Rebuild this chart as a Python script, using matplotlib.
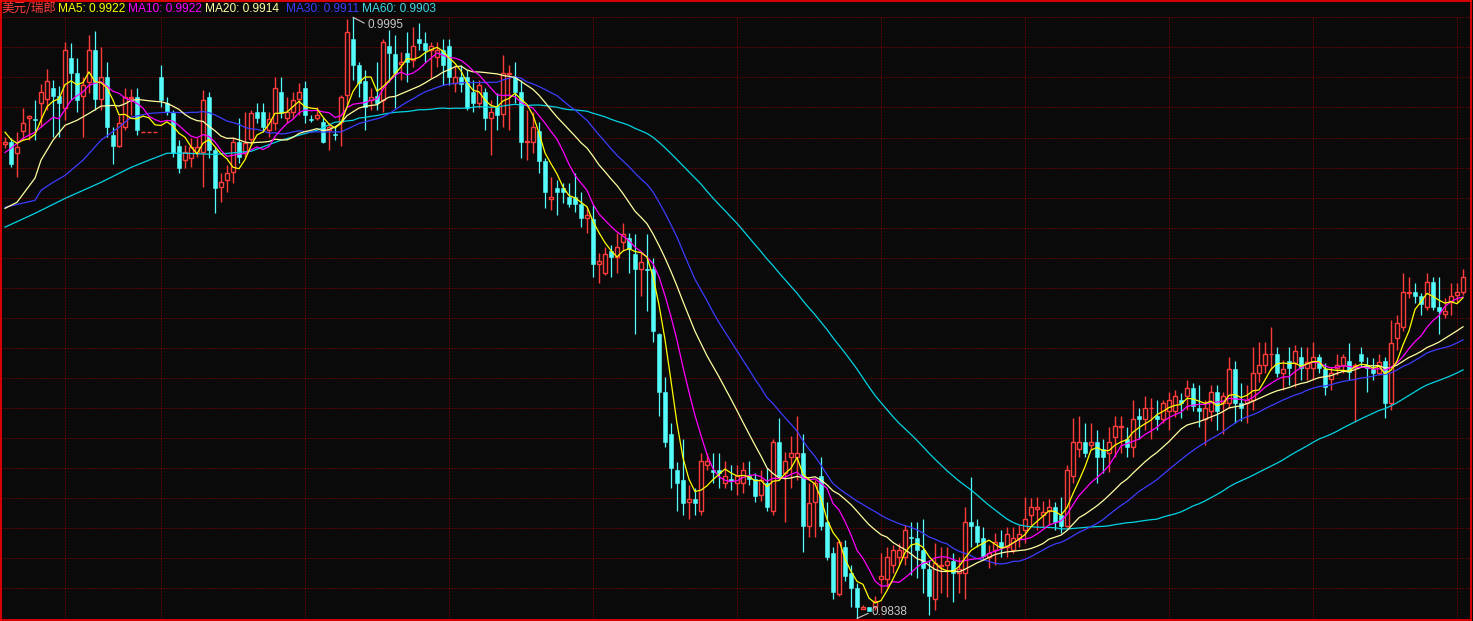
import numpy as np
import pandas as pd
import matplotlib
matplotlib.use("Agg")
import matplotlib.pyplot as plt
from matplotlib.lines import Line2D

# USD/CHF daily bars
opens = [
    0.99619, 0.99624, 0.99595, 0.99652, 0.99686, 0.99684, 0.99725, 0.99736, 0.99765, 0.99744,
    0.99712, 0.99843, 0.99804, 0.99744, 0.99780, 0.99864, 0.99736, 0.99793, 0.99642, 0.99613,
    0.99663, 0.99738, 0.99741, 0.99650, 0.99650, 0.99650, 0.99793, 0.99725, 0.99699, 0.99613,
    0.99577, 0.99582, 0.99595, 0.99597, 0.99741, 0.99603, 0.99506, 0.99524, 0.99545, 0.99624,
    0.99595, 0.99631, 0.99702, 0.99702, 0.99655, 0.99673, 0.99754, 0.99686, 0.99702, 0.99736,
    0.99765, 0.99684, 0.99686, 0.99676, 0.99655, 0.99644, 0.99676, 0.99746, 0.99893, 0.99825,
    0.99783, 0.99733, 0.99744, 0.99733, 0.99874, 0.99853, 0.99827, 0.99856, 0.99838, 0.99893,
    0.99882, 0.99864, 0.99846, 0.99864, 0.99874, 0.99778, 0.99793, 0.99793, 0.99754, 0.99725,
    0.99754, 0.99686, 0.99715, 0.99697, 0.99801, 0.99793, 0.99754, 0.99624, 0.99624, 0.99652,
    0.99574, 0.99475, 0.99503, 0.99503, 0.99482, 0.99482, 0.99462, 0.99425, 0.99422, 0.99305,
    0.99281, 0.99341, 0.99323, 0.99362, 0.99373, 0.99331, 0.99292, 0.99294, 0.99292, 0.99122,
    0.98971, 0.98863, 0.98769, 0.98741, 0.98683, 0.98691, 0.98662, 0.98782, 0.98769, 0.98769,
    0.98733, 0.98743, 0.98733, 0.98733, 0.98751, 0.98743, 0.98702, 0.98733, 0.98662, 0.98840,
    0.98759, 0.98801, 0.98801, 0.98811, 0.98621, 0.98683, 0.98751, 0.98631, 0.98550, 0.98443,
    0.98568, 0.98500, 0.98459, 0.98406, 0.98409, 0.98409, 0.98482, 0.98482, 0.98521, 0.98540,
    0.98540, 0.98592, 0.98589, 0.98560, 0.98508, 0.98432, 0.98516, 0.98521, 0.98529, 0.98500,
    0.98500, 0.98631, 0.98621, 0.98589, 0.98540, 0.98560, 0.98579, 0.98568, 0.98560, 0.98589,
    0.98610, 0.98649, 0.98665, 0.98649, 0.98662, 0.98670, 0.98649, 0.98621, 0.98751, 0.98822,
    0.98840, 0.98832, 0.98840, 0.98822, 0.98811, 0.98853, 0.98879, 0.98850, 0.98829, 0.98910,
    0.98900, 0.98929, 0.98910, 0.98900, 0.98921, 0.98921, 0.98950, 0.98960, 0.98981, 0.98931,
    0.98900, 0.98921, 0.98971, 0.98944, 0.98942, 0.99031, 0.98942, 0.98942, 0.98950, 0.99020,
    0.99041, 0.99070, 0.99072, 0.99020, 0.99052, 0.99046, 0.99062, 0.99033, 0.99033, 0.99062,
    0.99031, 0.99005, 0.99033, 0.99041, 0.99052, 0.99036, 0.99072, 0.99041, 0.99031, 0.99020,
    0.99052, 0.98942, 0.99112, 0.99140, 0.99229, 0.99232, 0.99221, 0.99193, 0.99260, 0.99193,
    0.99174, 0.99206, 0.99224, 0.99232,
]
highs = [
    0.99637, 0.99634, 0.99650, 0.99712, 0.99694, 0.99733, 0.99775, 0.99814, 0.99785, 0.99770,
    0.99885, 0.99882, 0.99843, 0.99793, 0.99903, 0.99913, 0.99872, 0.99833, 0.99663, 0.99694,
    0.99765, 0.99762, 0.99765, 0.99650, 0.99650, 0.99650, 0.99825, 0.99741, 0.99707, 0.99629,
    0.99616, 0.99634, 0.99634, 0.99759, 0.99754, 0.99610, 0.99543, 0.99563, 0.99637, 0.99686,
    0.99702, 0.99707, 0.99725, 0.99725, 0.99702, 0.99793, 0.99793, 0.99741, 0.99754, 0.99778,
    0.99783, 0.99694, 0.99715, 0.99686, 0.99673, 0.99663, 0.99746, 0.99945, 0.99950, 0.99833,
    0.99812, 0.99765, 0.99833, 0.99893, 0.99916, 0.99903, 0.99859, 0.99911, 0.99924, 0.99934,
    0.99911, 0.99885, 0.99885, 0.99893, 0.99893, 0.99825, 0.99825, 0.99812, 0.99785, 0.99785,
    0.99765, 0.99733, 0.99752, 0.99851, 0.99825, 0.99833, 0.99785, 0.99707, 0.99702, 0.99676,
    0.99582, 0.99532, 0.99524, 0.99516, 0.99516, 0.99543, 0.99493, 0.99454, 0.99459, 0.99334,
    0.99349, 0.99355, 0.99388, 0.99412, 0.99388, 0.99383, 0.99334, 0.99383, 0.99321, 0.99125,
    0.99010, 0.98890, 0.98788, 0.98850, 0.98728, 0.98722, 0.98811, 0.98811, 0.98811, 0.98811,
    0.98790, 0.98780, 0.98780, 0.98788, 0.98790, 0.98759, 0.98767, 0.98772, 0.98850, 0.98903,
    0.98814, 0.98856, 0.98910, 0.98863, 0.98733, 0.98741, 0.98801, 0.98683, 0.98566, 0.98584,
    0.98584, 0.98519, 0.98472, 0.98414, 0.98411, 0.98438, 0.98550, 0.98566, 0.98571, 0.98576,
    0.98623, 0.98631, 0.98631, 0.98641, 0.98532, 0.98576, 0.98566, 0.98566, 0.98550, 0.98540,
    0.98670, 0.98749, 0.98641, 0.98618, 0.98571, 0.98602, 0.98610, 0.98618, 0.98618, 0.98623,
    0.98696, 0.98694, 0.98696, 0.98688, 0.98691, 0.98683, 0.98696, 0.98780, 0.98903, 0.98910,
    0.98890, 0.98890, 0.98871, 0.98850, 0.98879, 0.98910, 0.98910, 0.98879, 0.98950, 0.98931,
    0.98960, 0.98957, 0.98950, 0.98950, 0.98971, 0.98976, 0.98968, 0.99002, 0.98994, 0.98989,
    0.98950, 0.98989, 0.98989, 0.98971, 0.99062, 0.99052, 0.98994, 0.98989, 0.99088, 0.99101,
    0.99101, 0.99140, 0.99088, 0.99054, 0.99088, 0.99093, 0.99088, 0.99088, 0.99101, 0.99072,
    0.99046, 0.99036, 0.99072, 0.99072, 0.99099, 0.99046, 0.99088, 0.99062, 0.99059, 0.99072,
    0.99062, 0.99159, 0.99172, 0.99281, 0.99271, 0.99255, 0.99229, 0.99281, 0.99271, 0.99271,
    0.99216, 0.99255, 0.99255, 0.99292,
]
lows = [
    0.99608, 0.99558, 0.99532, 0.99629, 0.99629, 0.99629, 0.99663, 0.99707, 0.99637, 0.99637,
    0.99681, 0.99733, 0.99702, 0.99637, 0.99752, 0.99707, 0.99707, 0.99637, 0.99566, 0.99610,
    0.99655, 0.99694, 0.99642, 0.99650, 0.99650, 0.99650, 0.99715, 0.99694, 0.99584, 0.99543,
    0.99556, 0.99558, 0.99584, 0.99506, 0.99582, 0.99438, 0.99467, 0.99493, 0.99516, 0.99569,
    0.99584, 0.99616, 0.99673, 0.99650, 0.99637, 0.99655, 0.99686, 0.99673, 0.99686, 0.99694,
    0.99673, 0.99676, 0.99681, 0.99621, 0.99603, 0.99629, 0.99613, 0.99720, 0.99785, 0.99741,
    0.99655, 0.99707, 0.99707, 0.99702, 0.99780, 0.99712, 0.99785, 0.99780, 0.99819, 0.99864,
    0.99833, 0.99791, 0.99819, 0.99772, 0.99772, 0.99754, 0.99754, 0.99707, 0.99702, 0.99712,
    0.99655, 0.99590, 0.99655, 0.99663, 0.99655, 0.99725, 0.99582, 0.99577, 0.99595, 0.99543,
    0.99451, 0.99446, 0.99433, 0.99464, 0.99454, 0.99441, 0.99402, 0.99386, 0.99271, 0.99255,
    0.99276, 0.99271, 0.99281, 0.99341, 0.99281, 0.99122, 0.99221, 0.99182, 0.99101, 0.98910,
    0.98827, 0.98720, 0.98662, 0.98649, 0.98641, 0.98649, 0.98649, 0.98767, 0.98735, 0.98722,
    0.98720, 0.98715, 0.98702, 0.98709, 0.98728, 0.98683, 0.98688, 0.98662, 0.98649, 0.98741,
    0.98631, 0.98722, 0.98741, 0.98553, 0.98592, 0.98592, 0.98610, 0.98532, 0.98432, 0.98438,
    0.98479, 0.98409, 0.98380, 0.98404, 0.98399, 0.98401, 0.98446, 0.98461, 0.98498, 0.98519,
    0.98519, 0.98493, 0.98487, 0.98446, 0.98388, 0.98401, 0.98446, 0.98435, 0.98422, 0.98446,
    0.98432, 0.98566, 0.98566, 0.98537, 0.98511, 0.98519, 0.98540, 0.98540, 0.98550, 0.98566,
    0.98576, 0.98623, 0.98610, 0.98618, 0.98623, 0.98610, 0.98602, 0.98618, 0.98733, 0.98801,
    0.98801, 0.98819, 0.98733, 0.98759, 0.98762, 0.98801, 0.98811, 0.98801, 0.98801, 0.98850,
    0.98871, 0.98850, 0.98871, 0.98890, 0.98871, 0.98905, 0.98903, 0.98924, 0.98921, 0.98879,
    0.98832, 0.98897, 0.98871, 0.98863, 0.98931, 0.98890, 0.98897, 0.98890, 0.98924, 0.98997,
    0.99020, 0.99028, 0.99010, 0.98976, 0.98989, 0.98984, 0.99002, 0.99002, 0.99002, 0.99020,
    0.98963, 0.98976, 0.99015, 0.99020, 0.99002, 0.98892, 0.99036, 0.98971, 0.99002, 0.99015,
    0.98903, 0.98924, 0.99080, 0.99132, 0.99216, 0.99203, 0.99172, 0.99185, 0.99185, 0.99122,
    0.99164, 0.99172, 0.99203, 0.99224,
]
closes = [
    0.99624, 0.99566, 0.99610, 0.99673, 0.99691, 0.99681, 0.99754, 0.99783, 0.99744, 0.99725,
    0.99864, 0.99804, 0.99733, 0.99772, 0.99864, 0.99736, 0.99793, 0.99663, 0.99613, 0.99673,
    0.99741, 0.99741, 0.99655, 0.99650, 0.99650, 0.99650, 0.99733, 0.99702, 0.99595, 0.99556,
    0.99597, 0.99610, 0.99610, 0.99733, 0.99603, 0.99503, 0.99519, 0.99543, 0.99624, 0.99584,
    0.99621, 0.99699, 0.99686, 0.99663, 0.99684, 0.99765, 0.99699, 0.99702, 0.99733, 0.99754,
    0.99694, 0.99681, 0.99694, 0.99624, 0.99663, 0.99642, 0.99741, 0.99911, 0.99825, 0.99778,
    0.99715, 0.99741, 0.99725, 0.99885, 0.99856, 0.99804, 0.99833, 0.99833, 0.99874, 0.99882,
    0.99864, 0.99874, 0.99864, 0.99825, 0.99793, 0.99793, 0.99775, 0.99712, 0.99725, 0.99772,
    0.99686, 0.99702, 0.99694, 0.99804, 0.99804, 0.99754, 0.99624, 0.99626, 0.99663, 0.99574,
    0.99493, 0.99482, 0.99493, 0.99493, 0.99462, 0.99462, 0.99425, 0.99433, 0.99305, 0.99313,
    0.99331, 0.99323, 0.99349, 0.99383, 0.99344, 0.99292, 0.99310, 0.99289, 0.99132, 0.98971,
    0.98840, 0.98772, 0.98733, 0.98681, 0.98691, 0.98681, 0.98790, 0.98790, 0.98762, 0.98759,
    0.98751, 0.98738, 0.98751, 0.98769, 0.98743, 0.98699, 0.98741, 0.98670, 0.98840, 0.98751,
    0.98790, 0.98811, 0.98811, 0.98621, 0.98681, 0.98733, 0.98621, 0.98540, 0.98448, 0.98579,
    0.98490, 0.98459, 0.98409, 0.98409, 0.98399, 0.98427, 0.98490, 0.98540, 0.98560, 0.98560,
    0.98610, 0.98589, 0.98560, 0.98511, 0.98440, 0.98524, 0.98519, 0.98529, 0.98500, 0.98508,
    0.98631, 0.98621, 0.98579, 0.98542, 0.98550, 0.98579, 0.98568, 0.98600, 0.98589, 0.98600,
    0.98639, 0.98670, 0.98670, 0.98657, 0.98670, 0.98631, 0.98621, 0.98769, 0.98840, 0.98840,
    0.98811, 0.98840, 0.98801, 0.98801, 0.98840, 0.98882, 0.98882, 0.98829, 0.98900, 0.98900,
    0.98931, 0.98931, 0.98900, 0.98942, 0.98950, 0.98960, 0.98942, 0.98981, 0.98934, 0.98921,
    0.98931, 0.98971, 0.98921, 0.98960, 0.99031, 0.98942, 0.98931, 0.98950, 0.99020, 0.99041,
    0.99072, 0.99072, 0.99020, 0.99031, 0.99033, 0.99078, 0.99033, 0.99049, 0.99062, 0.99033,
    0.98984, 0.99020, 0.99041, 0.99062, 0.99023, 0.99041, 0.99052, 0.99033, 0.99020, 0.99049,
    0.98942, 0.99099, 0.99151, 0.99232, 0.99232, 0.99221, 0.99200, 0.99260, 0.99193, 0.99182,
    0.99182, 0.99221, 0.99232, 0.99271,
]

# moving-average values before each window fills (bar index, value)
ma5_head = [(0, 0.99650), (1, 0.99631), (2, 0.99621), (3, 0.99629)]
ma10_head = [(0, 0.99597), (1, 0.99608), (2, 0.99621), (3, 0.99634), (4, 0.99642),
             (5, 0.99650), (6, 0.99663), (7, 0.99676), (8, 0.99689)]
ma20_head = [(0, 0.99451), (2, 0.99467), (5, 0.99530), (6, 0.99577), (8, 0.99629),
             (10, 0.99668), (12, 0.99681), (14, 0.99699), (16, 0.99718), (18, 0.99720)]
ma30_head = [(0, 0.99454), (5, 0.99472), (6, 0.99498), (8, 0.99519), (10, 0.99537),
             (13, 0.99577), (16, 0.99629), (19, 0.99663), (21, 0.99689), (24, 0.99699),
             (27, 0.99702)]
ma60_head = [(0, 0.99402), (5, 0.99438), (10, 0.99477), (16, 0.99519), (21, 0.99558),
             (24, 0.99577), (27, 0.99595), (30, 0.99595), (35, 0.99592), (41, 0.99600),
             (46, 0.99629), (52, 0.99655), (55, 0.99676), (58, 0.99681)]

# bars where the vertical (date) grid lines sit
vgrid_bars = [10, 26, 50, 74, 98, 122, 146, 170, 194, 218, 242]

price_lo, price_hi = 0.9838, 0.9995
hi_bar, lo_bar = 58, 142

BG = "#0a0a0a"
RED = "#ff3c3c"
CYAN = "#54fcfc"
GRID = "#a00000"
LABEL = "#c8c8c8"

W, H = 1473, 621
fig = plt.figure(figsize=(W / 100, H / 100), dpi=100, facecolor=BG)
ax = fig.add_axes([1 / W, (H - 618.5) / H, 1470 / W, (618.5 - 17.3) / H])
ax.set_facecolor(BG)
ax.set_xlim((1 - 5) / 6, (1471 - 5) / 6)
ax.set_ylim(price_lo, price_hi)
ax.set_xticks([])
ax.set_yticks([])
for sp in ax.spines.values():
    sp.set_visible(False)

# dotted grid
for yv in np.linspace(price_lo, price_hi, 21)[1:]:
    ax.axhline(yv, color=GRID, lw=0.72, ls=(0, (1, 2)), zorder=0)
for xv in vgrid_bars:
    ax.axvline(xv, color=GRID, lw=0.72, ls=(0, (1, 2)), zorder=0)

# candles
x = np.arange(len(closes))
o = np.array(opens)
h = np.array(highs)
l = np.array(lows)
c = np.array(closes)
up = c >= o
dn = ~up
w = 0.72

ax.vlines(x[dn], l[dn], h[dn], color=CYAN, lw=0.9, zorder=2)
ax.bar(x[dn], o[dn] - c[dn], bottom=c[dn], width=w, color=CYAN,
       edgecolor=CYAN, lw=0.4, zorder=2)

ax.vlines(x[up], c[up], h[up], color=RED, lw=1.0, zorder=2)
ax.vlines(x[up], l[up], o[up], color=RED, lw=1.0, zorder=2)
ax.bar(x[up], c[up] - o[up], bottom=o[up], width=w, facecolor=BG,
       edgecolor=RED, lw=1.0, zorder=3)

# moving averages
s = pd.Series(closes)


def ma_line(n, head):
    roll = s.rolling(n).mean()
    xs = [p[0] for p in head] + list(range(n - 1, len(s)))
    ys = [p[1] for p in head] + list(roll.iloc[n - 1:])
    return xs, ys


ma_styles = [
    (60, ma60_head, "#00d4e4"),
    (30, ma30_head, "#3c3cff"),
    (20, ma20_head, "#ffffa0"),
    (10, ma10_head, "#ff00ff"),
    (5, ma5_head, "#ffff00"),
]
for n, head, col in ma_styles:
    xs, ys = ma_line(n, head)
    ax.plot(xs, ys, color=col, lw=0.9, zorder=4)

# high / low markers
ax.annotate(f"{highs[hi_bar]:.4f}", xy=(hi_bar, highs[hi_bar]),
            xytext=(367, H - 24.5), textcoords="figure pixels",
            color=LABEL, fontsize=8.5, family="Liberation Sans",
            va="center", ha="left", annotation_clip=False,
            arrowprops=dict(arrowstyle="-", color=LABEL, lw=0.8,
                            shrinkA=0, shrinkB=0, relpos=(0, 0.5)))
ax.annotate(f"{lows[lo_bar]:.4f}", xy=(lo_bar, lows[lo_bar]),
            xytext=(871, H - 612), textcoords="figure pixels",
            color=LABEL, fontsize=8.5, family="Liberation Sans",
            va="center", ha="left", annotation_clip=False,
            arrowprops=dict(arrowstyle="-", color=LABEL, lw=0.8,
                            shrinkA=0, shrinkB=0, relpos=(0, 0.5)))

# header
fig.text(1 / W, 1 - 8.5 / H, "美元/瑞郎", color=RED, fontsize=9,
         family=["Noto Sans CJK SC", "DejaVu Sans"], va="center", ha="left")
last_vals = [f"{v:.4f}" for v in [np.mean(closes[-5:]), np.mean(closes[-10:]),
                                   np.mean(closes[-20:]), np.mean(closes[-30:]),
                                   np.mean(closes[-60:])]]
head_items = [
    (58, "MA5: ", last_vals[0], "#ffff00"),
    (128, "MA10: ", last_vals[1], "#ff00ff"),
    (205, "MA20: ", last_vals[2], "#ffffa0"),
    (286, "MA30: ", last_vals[3], "#3c3cff"),
    (362, "MA60: ", last_vals[4], "#40d8e8"),
]
for px, name, val, col in head_items:
    fig.text(px / W, 1 - 8.5 / H, name + val, color=col, fontsize=8.6,
             family="Liberation Sans", va="center", ha="left")

# red frame around the whole panel
frame = dict(color="#ff0000", lw=1.2, transform=fig.transFigure)
fig.add_artist(Line2D([0.5 / W, 0.5 / W], [0, 1], **frame))
fig.add_artist(Line2D([1471 / W, 1471 / W], [0, 1], **frame))
fig.add_artist(Line2D([0, 1471 / W], [1 - 0.5 / H, 1 - 0.5 / H], **frame))
fig.add_artist(Line2D([0, 1471 / W], [1 - 620 / H, 1 - 620 / H], **frame))

fig.savefig("out.png", dpi=100, facecolor=BG)
